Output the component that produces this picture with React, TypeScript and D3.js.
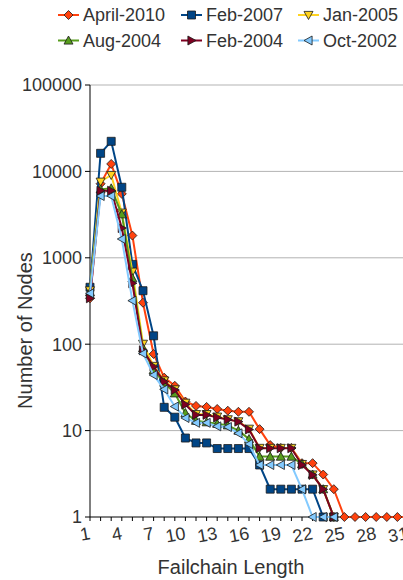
import React from "react";
import * as d3 from "d3";

const seriesNames = ["April-2010", "Feb-2007", "Jan-2005", "Aug-2004", "Feb-2004", "Oct-2002"];
const seriesColors = ["#ff420e", "#004586", "#ffd320", "#579d1c", "#7e0021", "#83caff"];
const seriesSymbols = ["diamond", "square", "down", "up", "right", "left"];

const lengths = d3.range(1, 32);

const april2010 = [340, 7200, 12200, 5500, 1810, 302, 77, 41, 33, 21.7, 19.3, 18.8, 17.8, 17, 16.5, 16.5, 10.4, 6.8, 6.3, 6.3, 4.2, 4.2, 3.1, 2.1, 1, 1, 1, 1, 1, 1, 1];
const feb2007 = [456, 16200, 22300, 6550, 840, 416, 125, 18.6, 14.3, 8.2, 7.2, 7.2, 6.2, 6.2, 6.2, 6.2, 4, 2.1, 2.1, 2.1, 2.1, 2.1, 1, 1, null, null, null, null, null, null, null];
const jan2005 = [420, 7600, 9080, 3330, 690, 101, 56, 38, 30, 21, 15.5, 15.5, 14.5, 13.5, 12.8, 10.5, 6.3, 6.3, 6.3, 6.3, 4.1, 3.1, 2.1, 1, null, null, null, null, null, null, null];
const aug2004 = [400, 6200, 6370, 3190, 580, 90, 50, 36, 27, 16, 13, 12.5, 12, 11.5, 10, 8, 5, 5, 5, 5, 4.1, 3.1, 2.1, 1, null, null, null, null, null, null, null];
const feb2004 = [340, 5980, 5980, 2210, 507, 85, 55, 36.8, 29.5, 20, 15.2, 15.2, 14.2, 13.4, 12.7, 10.3, 6.25, 6.25, 6.25, 6.25, 4.0, 3.07, 2.09, 1, null, null, null, null, null, null, null];
const oct2002 = [388, 5190, 5190, 1650, 319, 78, 44, 30, 19, 14, 12.3, 12.3, 11.2, 11, 9.3, 7.0, 4.0, 4.0, 4.0, 4.0, 2.09, 1, 1, 1, null, null, null, null, null, null, null];

const seriesValues = [april2010, feb2007, jan2005, aug2004, feb2004, oct2002];

const yTicks = [1, 10, 100, 1000, 10000, 100000];
const xTickLabels = d3.range(1, 32, 3);

function markerPath(sym: string): string {
  const s = 4.5;
  switch (sym) {
    case "diamond":
      return `M0,${-s}L${s},0L0,${s}L${-s},0Z`;
    case "square":
      return `M${-4},${-4}L4,${-4}L4,4L${-4},4Z`;
    case "down":
      return `M${-s},${-s * 0.8}L${s},${-s * 0.8}L0,${s}Z`;
    case "up":
      return `M${-s},${s * 0.8}L${s},${s * 0.8}L0,${-s}Z`;
    case "right":
      return `M${-s * 0.8},${-s}L${s},0L${-s * 0.8},${s}Z`;
    case "left":
      return `M${s * 0.8},${-s}L${-s},0L${s * 0.8},${s}Z`;
  }
  return "";
}

export default function App() {
  const W = 403;
  const H = 580;
  const x = d3.scaleLinear().domain([1, 31]).range([90, 408]);
  const y = d3.scaleLog().domain([1, 100000]).range([517, 85]);
  const font = "'Liberation Sans', Arial, sans-serif";
  const textColor = "#333333";

  const line = d3
    .line<[number, number | null]>()
    .defined((d) => d[1] != null)
    .x((d) => x(d[0]))
    .y((d) => y(d[1] as number));

  const legendCols = [
    { lx: 58, tx: 83 },
    { lx: 181, tx: 206 },
    { lx: 298, tx: 323 },
  ];
  const legendRows = [15, 40.5];

  return (
    <svg
      width={W}
      height={H}
      style={{ position: "absolute", left: 0, top: 0, background: "#fff" }}
      fontFamily={font}
    >
      {/* gridlines */}
      {yTicks.slice(1).map((t) => (
        <line key={"g" + t} x1={90} x2={W} y1={y(t)} y2={y(t)} stroke="#b3b3b3" strokeWidth={1} />
      ))}
      {/* y ticks and labels */}
      {yTicks.map((t) => (
        <g key={"yt" + t}>
          <line x1={85} x2={90} y1={y(t)} y2={y(t)} stroke="#000" strokeWidth={1} />
          <text x={82} y={y(t)} dy="0.35em" textAnchor="end" fontSize={18} fill={textColor}>
            {t}
          </text>
        </g>
      ))}
      {/* x ticks */}
      {lengths.map((v) => (
        <line key={"xt" + v} x1={x(v)} x2={x(v)} y1={517} y2={521} stroke="#000" strokeWidth={1} />
      ))}
      {xTickLabels.map((v) => (
        <text
          key={"xl" + v}
          x={x(v) + 1}
          y={539}
          textAnchor="end"
          fontSize={18}
          fill={textColor}
          transform={`rotate(-10, ${x(v) + 1}, 539)`}
        >
          {v}
        </text>
      ))}
      {/* axes */}
      <line x1={90} x2={90} y1={85} y2={517} stroke="#000" strokeWidth={1} />
      <line x1={90} x2={W} y1={517} y2={517} stroke="#000" strokeWidth={1} />

      {/* series */}
      {seriesValues.map((vals, i) => {
        const pts: [number, number | null][] = lengths.map((l, j) => [l, vals[j]]);
        return (
          <g key={"s" + i}>
            <path d={line(pts) || ""} fill="none" stroke={seriesColors[i]} strokeWidth={2} />
            {pts
              .filter((p) => p[1] != null)
              .map((p, k) => (
                <path
                  key={k}
                  d={markerPath(seriesSymbols[i])}
                  transform={`translate(${x(p[0])},${y(p[1] as number)})`}
                  fill={seriesColors[i]}
                  stroke="#1a1a1a"
                  strokeWidth={0.8}
                />
              ))}
          </g>
        );
      })}

      {/* axis titles */}
      <text
        x={0}
        y={0}
        transform="translate(32,330.5) rotate(-90)"
        textAnchor="middle"
        fontSize={20}
        fill={textColor}
      >
        Number of Nodes
      </text>
      <text x={231} y={574} textAnchor="middle" fontSize={20} fill={textColor}>
        Failchain Length
      </text>

      {/* legend */}
      {seriesNames.map((name, i) => {
        const col = legendCols[i % 3];
        const ry = legendRows[Math.floor(i / 3)];
        return (
          <g key={"lg" + i}>
            <line x1={col.lx} x2={col.lx + 21} y1={ry} y2={ry} stroke={seriesColors[i]} strokeWidth={2} />
            <path
              d={markerPath(seriesSymbols[i])}
              transform={`translate(${col.lx + 10.5},${ry})`}
              fill={seriesColors[i]}
              stroke="#1a1a1a"
              strokeWidth={0.8}
            />
            <text x={col.tx} y={ry + 6} fontSize={18} fill={textColor}>
              {name}
            </text>
          </g>
        );
      })}
    </svg>
  );
}
